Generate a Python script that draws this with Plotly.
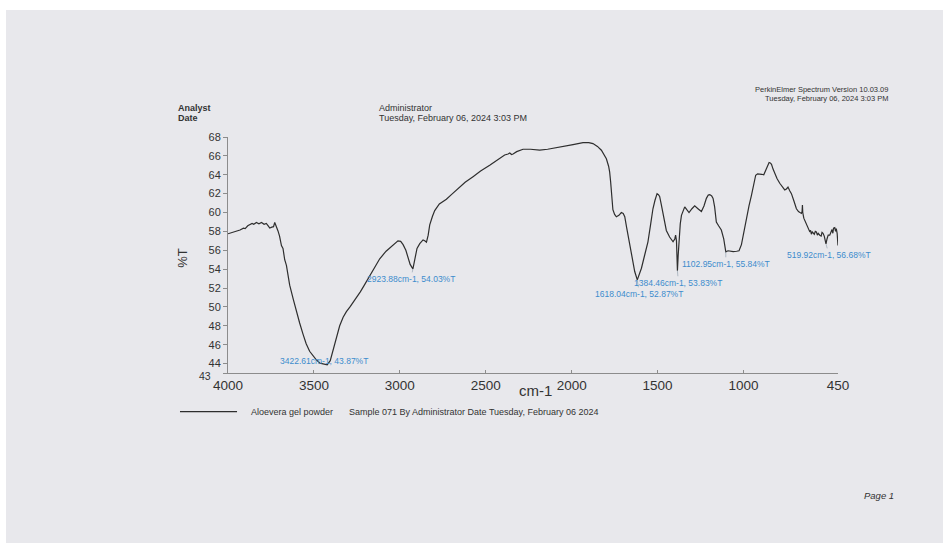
import plotly.graph_objects as go

# FTIR transmission spectrum of Aloevera gel powder
wavenumber = [
    4000, 3960, 3930, 3910, 3900, 3885, 3874, 3860, 3850, 3835, 3820, 3805, 3790, 3777,
    3765, 3757, 3745, 3735, 3728, 3720, 3709, 3700, 3689, 3680, 3670, 3660, 3650, 3641,
    3620, 3602, 3583, 3563, 3545, 3525, 3505, 3486, 3465, 3447, 3422.61, 3405, 3389,
    3370, 3350, 3330, 3311, 3290, 3270, 3253, 3230, 3210, 3194, 3160, 3117, 3080, 3040,
    3011, 2995, 2981, 2965, 2952, 2940, 2923.88, 2913, 2900, 2884, 2865, 2855, 2845,
    2835, 2826, 2810, 2797, 2770, 2729, 2700, 2671, 2652, 2620, 2574, 2530, 2477, 2430,
    2390, 2370, 2360, 2350, 2341, 2320, 2283, 2240, 2186, 2140, 2089, 2040, 1992, 1934,
    1900, 1876, 1850, 1827, 1810, 1798, 1785, 1779, 1773, 1769, 1764, 1760, 1750, 1740,
    1725, 1711, 1700, 1691, 1680, 1662, 1648, 1633, 1618.04, 1605, 1594, 1575, 1556,
    1540, 1527, 1515, 1503, 1495, 1488, 1478, 1468, 1458, 1449, 1430, 1410, 1400, 1395,
    1390, 1384.46, 1380, 1375, 1368, 1361, 1350, 1342, 1330, 1317, 1300, 1284, 1265,
    1245, 1230, 1216, 1205, 1196, 1185, 1177, 1168, 1158, 1145, 1129, 1115, 1102.95,
    1090, 1080, 1060, 1040, 1026, 1012, 998, 983, 968, 954, 940, 929, 918, 906, 894,
    882, 867, 858, 851, 844, 837, 828, 818, 805, 789, 775, 760, 750, 741, 731, 721, 706,
    692, 680, 670, 663, 659, 657, 655, 649, 640, 632, 624, 615, 610, 605, 600, 595, 588,
    582, 576, 570, 565, 556, 548, 543, 537, 530, 525, 519.92, 514, 507, 498, 490, 485,
    480, 476, 469, 464, 460, 455, 452, 450,
]
transmittance = [
    57.75, 57.95, 58.15, 58.35, 58.3, 58.6, 58.7, 58.85, 58.75, 58.95, 58.8, 58.95, 58.75, 58.85,
    58.55, 58.35, 58.45, 58.5, 58.95, 58.6, 58.05, 57.5, 56.5, 56.2, 55.0, 54.4, 53.2, 52.3,
    50.8, 49.5, 48.3, 47.1, 46.1, 45.3, 44.8, 44.4, 44.05, 43.95, 43.87, 44.3, 45.3,
    46.7, 48.0, 48.9, 49.5, 50.0, 50.5, 50.9, 51.6, 52.2, 52.7, 53.8, 55.1, 55.9, 56.6,
    57.0, 56.95, 56.6, 56.0, 55.3, 54.5, 54.03, 55.2, 56.2, 56.7, 57.1, 57.0, 56.85,
    57.6, 58.7, 59.6, 60.2, 60.9, 61.4, 61.9, 62.4, 62.7, 63.2, 63.8, 64.4, 65.0, 65.6,
    66.1, 66.2, 66.3, 66.15, 66.2, 66.45, 66.7, 66.7, 66.6, 66.7, 66.85, 67.0, 67.2, 67.4,
    67.4, 67.3, 67.0, 66.6, 66.1, 65.7, 64.9, 64.3, 63.2, 62.2, 61.0, 60.3, 59.8, 59.55,
    59.7, 60.0, 59.9, 59.55, 58.4, 56.6, 55.0, 53.75, 52.87, 53.5, 54.1, 55.5, 56.9,
    58.8, 60.4, 61.3, 62.0, 61.9, 61.7, 60.8, 59.7, 58.8, 58.1, 57.4, 56.9, 57.2, 57.6,
    57.0, 53.83, 55.5, 57.6, 58.8, 59.7, 60.3, 60.6, 60.3, 60.0, 60.4, 60.7, 60.4,
    60.1, 60.7, 61.5, 61.85, 61.9, 61.75, 61.5, 60.6, 59.0, 58.6, 58.15, 57.2, 55.84,
    55.95, 55.9, 55.85, 55.9, 55.95, 56.6, 58.0, 59.4, 60.7, 61.8, 63.0, 63.95, 64.1, 64.1, 64.05,
    64.0, 64.7, 65.1, 65.3, 65.25, 65.1, 64.6, 64.1, 63.6, 63.1, 62.7, 62.4, 62.5, 62.7, 62.3, 62.0, 61.2,
    60.4, 60.1, 60.0, 59.9, 60.1, 60.8, 60.0, 59.4, 59.0, 58.6, 58.3, 58.0, 58.1, 57.7, 57.95, 57.8, 57.7,
    58.0, 57.95, 57.6, 57.8, 57.6, 57.5, 57.9, 57.8, 57.5, 57.2, 56.68, 57.2, 57.6, 57.6, 58.0, 58.2,
    57.8, 58.35, 58.4, 58.0, 58.3, 57.8, 57.0, 56.5,
]

# Labelled peaks
peak_wn = [3422.61, 2923.88, 1618.04, 1384.46, 1102.95, 519.92]
peak_t = [43.87, 54.03, 52.87, 53.83, 55.84, 56.68]

x_ticks = [4000, 3500, 3000, 2500, 2000, 1500, 1000, 450]
y_ticks = [43, 44, 46, 48, 50, 52, 54, 56, 58, 60, 62, 64, 66, 68]
y_min = y_ticks[0]

FONT = "Liberation Sans, Arial, sans-serif"
INK = "#333333"
BLUE = "#3d8ccc"

fig = go.Figure()
fig.add_trace(go.Scatter(
    x=wavenumber, y=transmittance, mode="lines",
    line=dict(color="#2e2e2e", width=1.2), hoverinfo="skip", showlegend=False,
))

# peak labels with short leader lines
label_offsets = [(-3, None), (-2, 10), (2, 14), (1, 12), (0, 12), (3, 11)]
for wn, t, (dx, dy) in zip(peak_wn, peak_t, label_offsets):
    text = f"{wn:.2f}cm-1, {t:.2f}%T"
    if dy is None:
        fig.add_annotation(x=wn, y=t, text=text, showarrow=False, xshift=dx, yshift=4,
                           font=dict(family=FONT, size=8.5, color=BLUE))
    else:
        fig.add_annotation(x=wn, y=t, text=text, showarrow=True, arrowhead=0,
                           arrowwidth=0.6, arrowcolor="#8a9aa8", ax=dx, ay=dy, standoff=0,
                           font=dict(family=FONT, size=8.5, color=BLUE))

# bottom y label, set just below and left of its neighbours
fig.add_annotation(x=-0.0246, y=y_min, xref="paper", yref="y", text=str(y_min),
                   showarrow=False, xanchor="right", yanchor="middle", yshift=-3,
                   font=dict(family=FONT, size=10.5, color=INK))

# page background (scanned sheet on a white surround)
fig.add_shape(type="rect", xref="paper", yref="paper", x0=-0.3639, x1=1.1721,
              y0=-0.7203, y1=1.5381, fillcolor="#e8e8ec", line=dict(width=0), layer="below")

# legend swatch
fig.add_shape(type="line", xref="paper", yref="paper", x0=-0.0787, x1=0.0148,
              y0=-0.164, y1=-0.164, line=dict(color="#2e2e2e", width=1.2))


def note(text, x, y, size=9, xanchor="left", **kw):
    fig.add_annotation(text=text, x=x, y=y, xref="paper", yref="paper", showarrow=False,
                       xanchor=xanchor, yanchor="middle",
                       font=dict(family=FONT, size=size, color=kw.pop("color", INK)), **kw)


note("PerkinElmer Spectrum Version 10.03.09", 1.0852, 1.2000, size=7.5, xanchor="right")
note("Tuesday, February 06, 2024 3:03 PM", 1.0852, 1.1650, size=7.5, xanchor="right")
note("<b>Analyst</b>", -0.0852, 1.1242)
note("<b>Date</b>", -0.0852, 1.0792)
note("Administrator", 0.2443, 1.1242)
note("Tuesday, February 06, 2024 3:03 PM", 0.2443, 1.0792)
note("Aloevera gel powder", 0.0344, -0.164)
note("Sample 071 By Administrator Date Tuesday, February 06 2024", 0.1959, -0.164)
note("<i>Page 1</i>", 1.0393, -0.520, size=9.5)
note("cm-1", 0.5033, -0.075, size=15, xanchor="center")
note("%T", -0.0759, 0.487, size=13, xanchor="center", textangle=-90)

fig.update_layout(
    width=946, height=547,
    margin=dict(l=228, r=108, t=137, b=174),
    paper_bgcolor="#ffffff", plot_bgcolor="rgba(0,0,0,0)",
    font=dict(family=FONT, color=INK),
    showlegend=False,
    xaxis=dict(
        range=[4000, 450], tickvals=x_ticks, ticktext=[str(v) for v in x_ticks],
        showgrid=False, zeroline=False, showline=True, linecolor="#8c8c8c", linewidth=1,
        ticks="inside", ticklen=3, tickcolor="#8c8c8c",
        tickfont=dict(family=FONT, size=13.5, color=INK),
    ),
    yaxis=dict(
        range=[43, 68], tickvals=y_ticks,
        ticktext=["" if v == y_min else str(v) for v in y_ticks],
        showgrid=False, zeroline=False, showline=True, linecolor="#8c8c8c", linewidth=1,
        ticks="outside", ticklen=4, tickcolor="#8c8c8c",
        tickfont=dict(family=FONT, size=11, color=INK),
    ),
)

fig.write_html("out.html")
